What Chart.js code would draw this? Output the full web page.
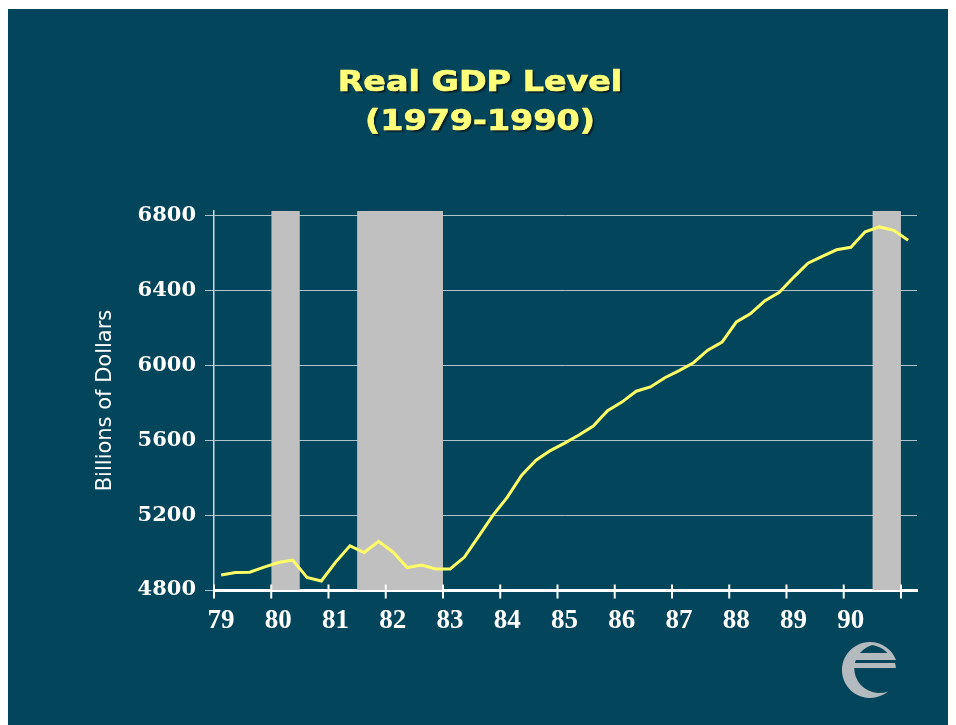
<!DOCTYPE html>
<html>
<head>
<meta charset="utf-8">
<script src="https://cdn.jsdelivr.net/npm/chart.js@4/dist/chart.umd.min.js"></script>
<style>
  html, body { margin: 0; padding: 0; background: #fff; }
  body { width: 956px; height: 725px; position: relative; overflow: hidden; }
  #slide { position: absolute; left: 8px; top: 9px; width: 940px; height: 716px; background: #03455b; }
  #title {
    position: absolute; left: 2px; top: 53px; width: 940px; text-align: center;
    font: bold 29px "DejaVu Sans"; line-height: 39px; color: #ffff7a;
    -webkit-text-stroke: 0.7px #ffff7a;
    text-shadow: 2px 2px 1px #0c2229; transform: scaleX(1.15);
  }
  #chart { position: absolute; left: 0; top: 0; }
  #logo { position: absolute; left: 840px; top: 640px; }
</style>
</head>
<body>
<div id="slide">
  <canvas id="chart" width="940" height="716"></canvas>
  <div id="title">Real GDP Level<br>(1979-1990)</div>
</div>
<svg id="logo" width="62" height="62" viewBox="0 0 62 62">
  <defs><clipPath id="disc"><circle cx="30" cy="30" r="26"/></clipPath></defs>
  <g fill="#b3bbbf">
    <path d="M30 2 A28 28 0 1 0 48 51.4 A25 24.5 0 1 1 32 5 Z"/>
    <path d="M30 2 A28 28 0 0 1 56 20 L52 20 A25 25 0 0 0 30 5 Z"/>
    <g clip-path="url(#disc)">
      <rect x="0" y="13" width="62" height="7"/>
      <rect x="0" y="23" width="62" height="5"/>
    </g>
  </g>
</svg>
<script>
// quarterly real GDP, billions of dollars
const quarters = [
  "1979Q1", "1979Q2", "1979Q3", "1979Q4", "1980Q1", "1980Q2", "1980Q3", "1980Q4",
  "1981Q1", "1981Q2", "1981Q3", "1981Q4", "1982Q1", "1982Q2", "1982Q3", "1982Q4",
  "1983Q1", "1983Q2", "1983Q3", "1983Q4", "1984Q1", "1984Q2", "1984Q3", "1984Q4",
  "1985Q1", "1985Q2", "1985Q3", "1985Q4", "1986Q1", "1986Q2", "1986Q3", "1986Q4",
  "1987Q1", "1987Q2", "1987Q3", "1987Q4", "1988Q1", "1988Q2", "1988Q3", "1988Q4",
  "1989Q1", "1989Q2", "1989Q3", "1989Q4", "1990Q1", "1990Q2", "1990Q3", "1990Q4",
  "1991Q1"
];
const gdp = [
  4880, 4893, 4895, 4922, 4947, 4960, 4867, 4848,
  4949, 5036, 5000, 5060, 5003, 4920, 4933, 4912,
  4912, 4976, 5088, 5200, 5296, 5413, 5493, 5544,
  5584, 5627, 5675, 5757, 5803, 5861, 5884, 5933,
  5971, 6013, 6080, 6123, 6231, 6276, 6344, 6389,
  6469, 6544, 6581, 6616, 6629, 6712, 6738, 6720,
  6667
];

// recessions (shaded), as decimal years
const recessionStart = [1980.0, 1981.5, 1990.5];
const recessionEnd = [1980.5, 1983.0, 1991.0];

const yearTicks = [1979, 1980, 1981, 1982, 1983, 1984, 1985, 1986, 1987, 1988, 1989, 1990, 1991];
const yearLabels = ["79", "80", "81", "82", "83", "84", "85", "86", "87", "88", "89", "90"];
const gdpTicks = [4800, 5200, 5600, 6000, 6400, 6800];

const Y_MIN = 4800, Y_MAX = 6823;

function quarterX(q) {
  const [yr, n] = q.split("Q");
  return Number(yr) + (Number(n) - 1) * 0.25 + 0.125;
}

const bands = recessionStart.map((s, i) => ({
  label: "recession",
  data: [{ x: s, y: Y_MAX }, { x: recessionEnd[i], y: Y_MAX }],
  borderWidth: 0,
  pointRadius: 0,
  backgroundColor: "#c0c0c0",
  fill: { value: Y_MIN },
  order: 2
}));

// x ticks cross the axis line, drawn on top
const crossTicks = {
  id: "crossTicks",
  afterDatasetsDraw(chart) {
    const s = chart.scales.x;
    const ctx = chart.ctx;
    const y0 = chart.chartArea.bottom + 1.5;
    ctx.save();
    ctx.strokeStyle = "#ffffff";
    ctx.lineWidth = 2;
    s.ticks.forEach(t => {
      const x = s.getPixelForValue(t.value);
      ctx.beginPath();
      ctx.moveTo(x, y0 - 7);
      ctx.lineTo(x, y0 + 7);
      ctx.stroke();
    });
    ctx.restore();
  }
};

new Chart(document.getElementById("chart"), {
  type: "line",
  data: {
    datasets: [
      {
        label: "Real GDP",
        data: quarters.map((q, i) => ({ x: quarterX(q), y: gdp[i] })),
        borderColor: "#ffff66",
        borderWidth: 3,
        pointRadius: 0,
        tension: 0,
        fill: false,
        order: 0
      },
      ...bands
    ]
  },
  options: {
    responsive: false,
    animation: false,
    events: [],
    layout: { padding: { left: 0, top: 202, right: 31, bottom: 75 } },
    plugins: { legend: { display: false }, tooltip: { enabled: false } },
    scales: {
      x: {
        type: "linear",
        min: 1979,
        max: 1991.28,
        afterBuildTicks: s => { s.ticks = yearTicks.map(v => ({ value: v })); },
        afterFit: s => { s.height = 60; },
        grid: { drawOnChartArea: false, drawTicks: true, tickLength: 7, tickColor: "rgba(0,0,0,0)" },
        border: { color: "#ffffff", width: 3 },
        ticks: {
          color: "#ffffff",
          font: { family: "'Liberation Serif'", weight: "bold", size: 27 },
          padding: 8,
          labelOffset: 7,
          maxRotation: 0,
          autoSkip: false,
          callback: (v, i) => yearLabels[i] ?? ""
        }
      },
      y: {
        min: Y_MIN,
        max: Y_MAX,
        afterBuildTicks: s => { s.ticks = gdpTicks.map(v => ({ value: v })); },
        afterFit: s => { s.width = 206; },
        grid: { color: "rgba(205,218,226,0.85)", lineWidth: 1, tickLength: 9 },
        border: { color: "#d0d9df", width: 1.5 },
        ticks: {
          color: "#ffffff",
          font: { family: "'DejaVu Serif'", weight: "bold", size: 21 },
          padding: 9,
          callback: v => String(v)
        },
        title: {
          display: true,
          text: "Billions of Dollars",
          color: "#ffffff",
          font: { family: "'DejaVu Sans'", size: 21 },
          padding: { top: 85, bottom: 0 }
        }
      }
    }
  },
  plugins: [crossTicks]
});
</script>
</body>
</html>
